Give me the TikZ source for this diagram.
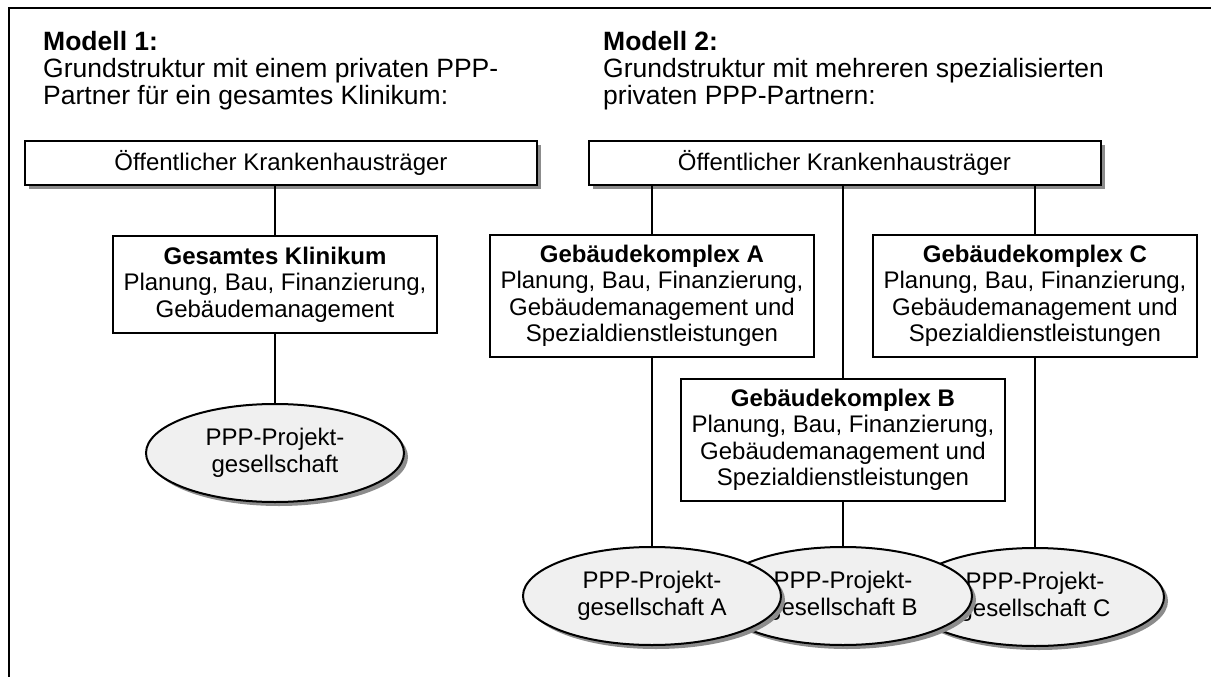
\documentclass[tikz,border=0pt]{standalone}
\usepackage{fontspec}
\setmainfont{Liberation Sans}
\usetikzlibrary{positioning,shapes.geometric,shadows}

\begin{document}
\begin{tikzpicture}[
  x=1pt, y=-1pt,
  font=\fontsize{24}{26.5}\selectfont,
  heading/.style={
    anchor=north west,
    align=left,
    inner sep=0pt,
    font=\fontsize{26.5}{27}\selectfont
  },
  shade/.style={drop shadow={shadow xshift=4pt, shadow yshift=-4pt, fill=black!45, opacity=1}},
  traeger/.style={
    rectangle,
    draw=black,
    fill=white,
    line width=2pt,
    minimum width=512pt,
    minimum height=44pt,
    inner sep=0pt,
    shade
  },
  komplex/.style={
    rectangle,
    draw=black,
    fill=white,
    line width=2pt,
    minimum width=324pt,
    minimum height=#1,
    align=center,
    inner sep=0pt
  },
  gesellschaft/.style={
    ellipse,
    draw=black,
    fill=black!6,
    line width=2pt,
    minimum width=258pt,
    minimum height=98pt,
    align=center,
    inner sep=0pt,
    shade
  },
  link/.style={line width=2pt}
]
  \useasboundingbox (0,0) rectangle (1211,677);
  \draw[line width=2pt] (9,677) -- (9,8) -- (1211,8);

  \node[heading] (modell1) at (43,31) {\textbf{Modell 1:}\\
    Grundstruktur mit einem privaten PPP-\\Partner für ein gesamtes Klinikum:};
  \node[heading] (modell2) at (603,31) {\textbf{Modell 2:}\\
    Grundstruktur mit mehreren spezialisierten\\privaten PPP-Partnern:};

  % Modell 1
  \node[traeger] (traeger1) at (281,163) {Öffentlicher Krankenhausträger};
  \node[komplex=97pt] (gesamt) at (275,284.5) {\textbf{Gesamtes Klinikum}\\
    Planung, Bau, Finanzierung,\\Gebäudemanagement};
  \node[gesellschaft] (projekt1) at (275,453) {PPP-Projekt-\\gesellschaft};

  \draw[link] (gesamt.north) -- (gesamt.north |- traeger1.south);
  \draw[link] (gesamt) -- (projekt1);

  % Modell 2
  \node[traeger] (traeger2) at (844.5,163) {Öffentlicher Krankenhausträger};
  \node[komplex=122pt] (komplexA) at (652,296) {\textbf{Gebäudekomplex A}\\
    Planung, Bau, Finanzierung,\\Gebäudemanagement und\\Spezialdienstleistungen};
  \node[komplex=122pt] (komplexC) at (1035,296) {\textbf{Gebäudekomplex C}\\
    Planung, Bau, Finanzierung,\\Gebäudemanagement und\\Spezialdienstleistungen};
  \node[komplex=122pt] (komplexB) at (843,440) {\textbf{Gebäudekomplex B}\\
    Planung, Bau, Finanzierung,\\Gebäudemanagement und\\Spezialdienstleistungen};

  \draw[link] (komplexA.north) -- (komplexA.north |- traeger2.south);
  \draw[link] (komplexB.north) -- (komplexB.north |- traeger2.south);
  \draw[link] (komplexC.north) -- (komplexC.north |- traeger2.south);

  \node[gesellschaft] (projektC) at (1035,597) {PPP-Projekt-\\gesellschaft C};
  \node[gesellschaft] (projektB) at (843,596) {PPP-Projekt-\\gesellschaft B};
  \node[gesellschaft] (projektA) at (652,596) {PPP-Projekt-\\gesellschaft A};

  \draw[link] (komplexA) -- (projektA);
  \draw[link] (komplexB) -- (projektB);
  \draw[link] (komplexC) -- (projektC);
\end{tikzpicture}
\end{document}
